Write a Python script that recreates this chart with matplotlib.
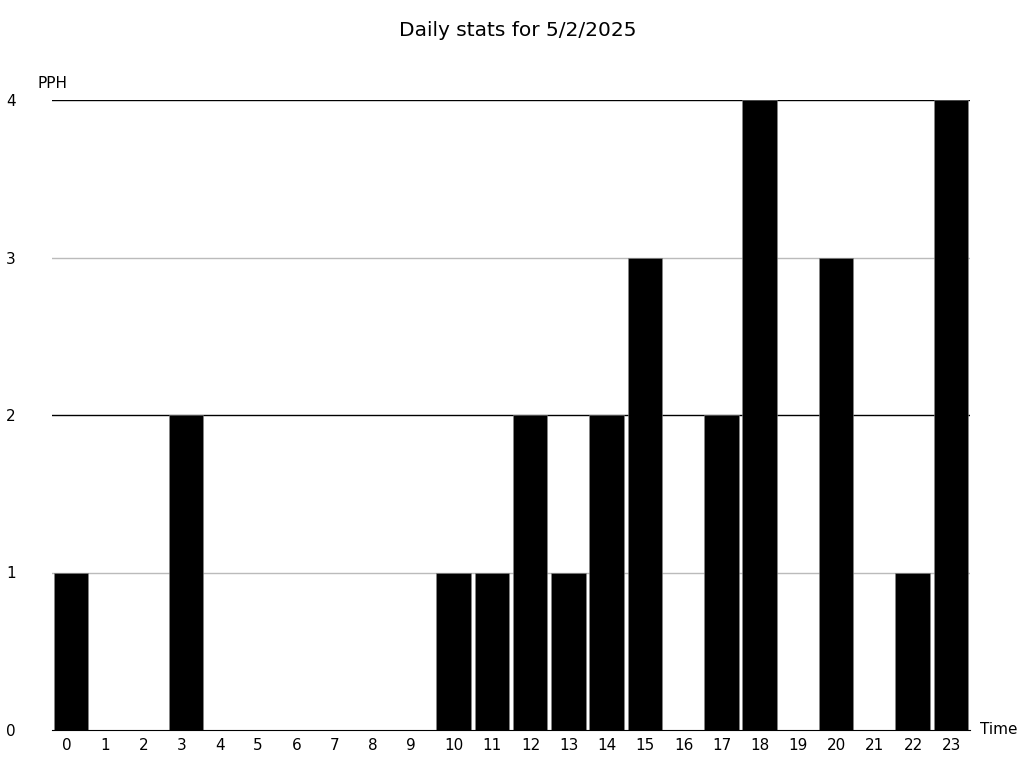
import matplotlib
matplotlib.use("Agg")
import matplotlib.pyplot as plt

plt.rcParams["font.family"] = ["DejaVu Sans"]

# hourly values
hours = list(range(24))
pph = [1, 0, 0, 2, 0, 0, 0, 0, 0, 0, 1, 1, 2, 1, 2, 3, 0, 2, 4, 0, 3, 0, 1, 4]
y_ticks = [0, 1, 2, 3, 4]
title = "Daily stats for 5/2/2025"

fig = plt.figure(figsize=(10.24, 7.68), dpi=100)
ax = fig.add_axes([52 / 1024, 38 / 768, 918 / 1024, 630 / 768])

ax.bar(hours, pph, width=0.9, color="black", edgecolor="#888888", linewidth=0.4, zorder=3)

ax.set_xlim(-0.5, 23.5)
ax.set_ylim(0, 4)

# grid: even levels black, odd levels grey
for v in y_ticks[1:]:
    ax.axhline(v, color="black" if v % 2 == 0 else "#bbbbbb", linewidth=1, zorder=1)

for s in ["top", "right", "left"]:
    ax.spines[s].set_visible(False)
ax.spines["bottom"].set_color("black")
ax.spines["bottom"].set_zorder(4)

# hour labels are left-aligned a little inside each bar
ax.set_xticks([h - 0.24 for h in hours])
ax.set_xticklabels([str(h) for h in hours], fontsize=11, ha="left")
ax.set_yticks(y_ticks)
ax.set_yticklabels([str(v) for v in y_ticks], fontsize=11)
ax.tick_params(axis="x", length=0, pad=6)
ax.tick_params(axis="y", length=0, pad=26)

ax.text(-0.016, 1.014, "PPH", transform=ax.transAxes, fontsize=11, va="bottom", ha="left")
ax.text(1.011, 0.0, "Time", transform=ax.transAxes, fontsize=11, va="center", ha="left")

fig.text(518 / 1024, 1 - 30 / 768, title, fontsize=14.5, ha="center", va="center")

fig.savefig("out.png", dpi=100)
